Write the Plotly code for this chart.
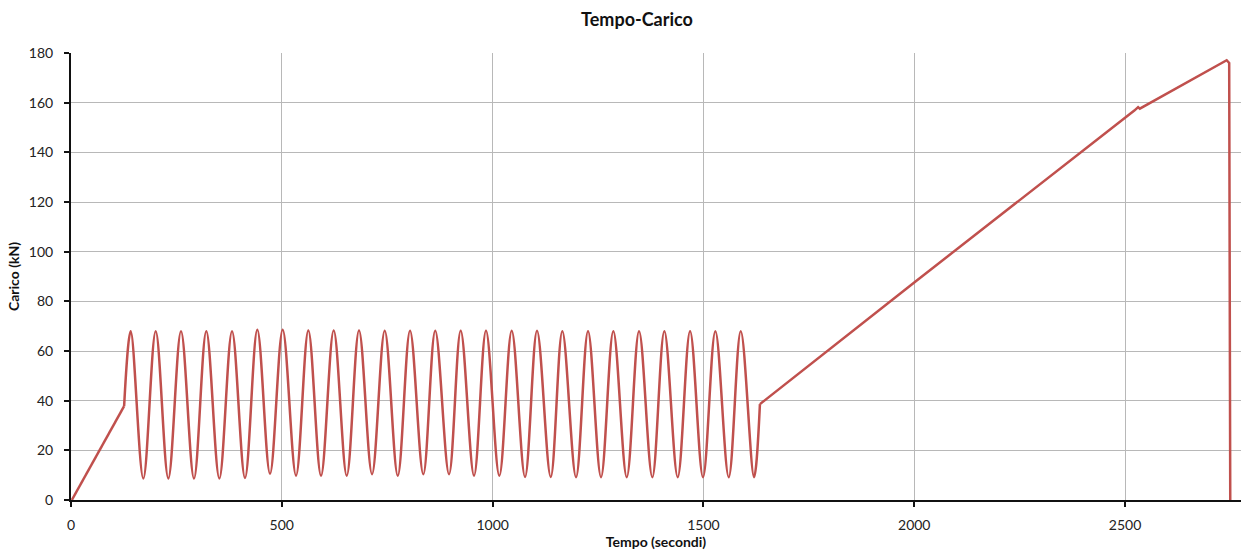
import plotly.graph_objects as go

# Initial loading ramp (time in s, load in kN)
ramp_up_t = [2, 126]
ramp_up_kn = [0, 37.8]

# Cyclic phase: start, alternating peaks / troughs, end
cycle_t = [126, 141.6, 171.5, 200.9, 230.8, 260.9, 291.7, 320.9, 351.8, 381.9, 412.7,
           441.9, 472.0, 502.1, 533.7, 562.9, 593.0, 623.1, 654.0, 683.1, 714.0,
           744.1, 775.0, 804.1, 835.6, 863.9, 896.6, 924.3, 955.9, 984.3, 1015.9,
           1045.3, 1076.9, 1105.3, 1137.8, 1165.3, 1197.8, 1226.3, 1257.1, 1286.3, 1318.1,
           1347.3, 1378.8, 1407.3, 1439.0, 1468.3, 1499.0, 1528.3, 1560.0, 1588.5, 1620.0,
           1634]
cycle_kn = [37.8, 68.0, 8.7, 68.0, 8.7, 68.0, 8.7, 68.0, 8.7, 68.0, 8.9,
            68.6, 10.6, 68.6, 9.8, 68.3, 9.8, 68.3, 9.8, 68.3, 10.4,
            68.2, 9.8, 68.2, 10.4, 68.2, 10.4, 68.2, 9.8, 68.2, 9.8,
            68.2, 9.3, 68.2, 9.3, 68.0, 9.2, 68.0, 9.2, 68.0, 9.2,
            68.0, 9.2, 68.0, 9.2, 68.0, 9.2, 68.0, 9.2, 68.0, 9.2,
            38.6]

# Final monotonic loading to failure
ramp_final_t = [1634, 2000, 2522, 2531, 2535, 2741, 2747, 2748, 2749.5]
ramp_final_kn = [38.6, 87.6, 156.8, 158.2, 157.6, 177.1, 176.0, 120.0, 0]

x_ticks = [0, 500, 1000, 1500, 2000, 2500]
y_ticks = [0, 20, 40, 60, 80, 100, 120, 140, 160, 180]

line_color = "#c0504d"
font_family = "Lato, 'Open Sans', sans-serif"

fig = go.Figure()
fig.add_trace(go.Scatter(x=ramp_up_t, y=ramp_up_kn, mode="lines",
                         line=dict(color=line_color, width=2.5), showlegend=False))
fig.add_trace(go.Scatter(x=cycle_t, y=cycle_kn, mode="lines",
                         line=dict(color=line_color, width=2.5, shape="spline", smoothing=1.0),
                         showlegend=False))
fig.add_trace(go.Scatter(x=ramp_final_t, y=ramp_final_kn, mode="lines",
                         line=dict(color=line_color, width=2.5), showlegend=False))

fig.update_layout(
    width=1241, height=551,
    margin=dict(l=71, r=0, t=53, b=51),
    paper_bgcolor="white", plot_bgcolor="white",
    font=dict(family=font_family, color="#222222", size=14),
    title=dict(text="<b>Tempo-Carico</b>", x=637 / 1241, xanchor="center",
               y=1 - 20 / 551, yanchor="middle", font=dict(size=18, color="#111111")),
    xaxis=dict(
        range=[0, 2775], tickvals=x_ticks, ticktext=[str(v) for v in x_ticks],
        showgrid=True, gridcolor="#b8b8b8", gridwidth=1,
        showline=True, linecolor="#111111", linewidth=2,
        ticks="outside", ticklen=5, tickwidth=2, tickcolor="#111111",
        ticklabelstandoff=6, zeroline=False,
        title=dict(text="<b>Tempo (secondi)</b>", font=dict(size=14, color="#111111"), standoff=5),
    ),
    yaxis=dict(
        range=[0, 180], tickvals=y_ticks, ticktext=[str(v) for v in y_ticks],
        showgrid=True, gridcolor="#b8b8b8", gridwidth=1,
        showline=True, linecolor="#111111", linewidth=2,
        ticks="outside", ticklen=5, tickwidth=2, tickcolor="#111111",
        ticklabelstandoff=8, zeroline=False,
        title=dict(text="<b>Carico (kN)</b>", font=dict(size=14, color="#111111"), standoff=6),
    ),
)

fig.write_html("out.html")
